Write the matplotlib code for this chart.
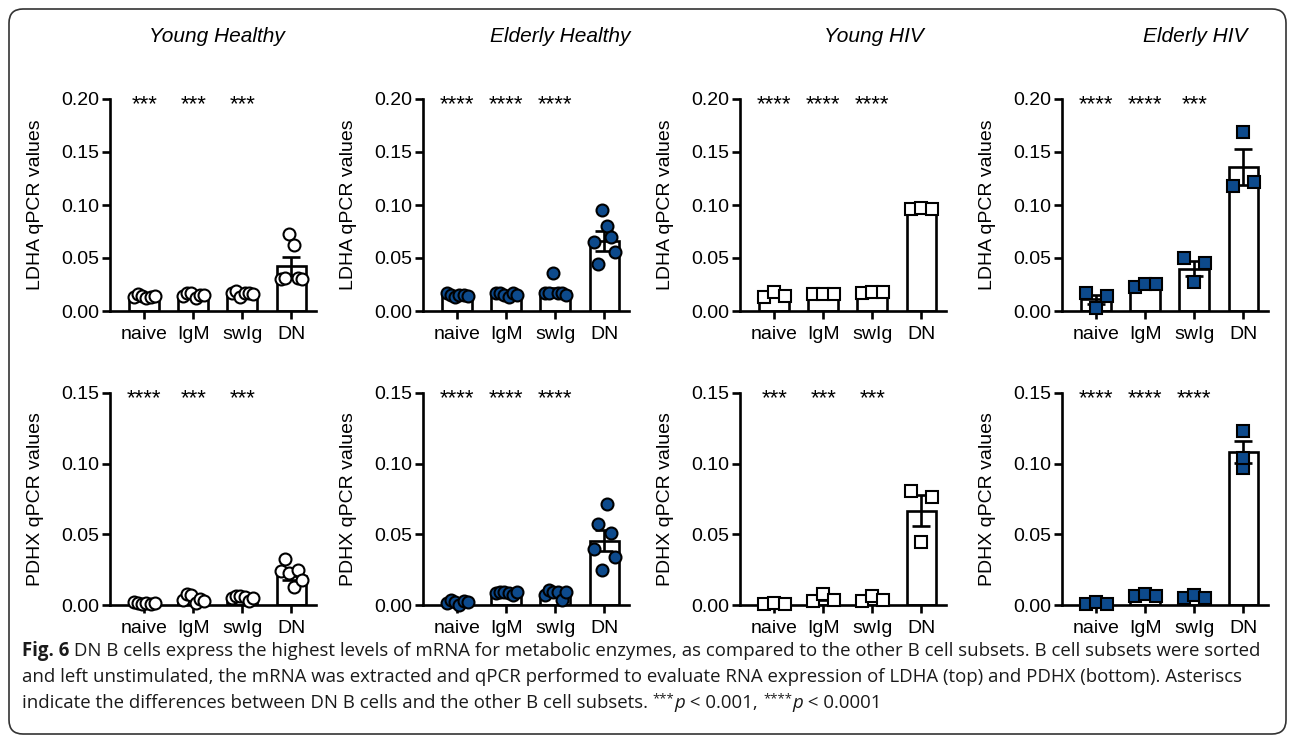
import numpy as np
import matplotlib.pyplot as plt
from matplotlib.patches import FancyBboxPatch
from matplotlib.transforms import IdentityTransform

subsets = ["naive", "IgM", "swIg", "DN"]
groups = ["Young Healthy", "Elderly Healthy", "Young HIV", "Elderly HIV"]

# LDHA qPCR values (top row), individual donors per subset
ldha_yh_points = [[0.0135, 0.0157, 0.0142, 0.0120, 0.0135, 0.0145],
                  [0.0140, 0.0167, 0.0167, 0.0126, 0.0150, 0.0155],
                  [0.0167, 0.0190, 0.0130, 0.0170, 0.0173, 0.0165],
                  [0.0300, 0.0310, 0.0730, 0.0620, 0.0310, 0.0300]]
ldha_eh_points = [[0.0170, 0.0150, 0.0135, 0.0150, 0.0150, 0.0140],
                  [0.0167, 0.0167, 0.0150, 0.0135, 0.0167, 0.0150],
                  [0.0167, 0.0170, 0.0360, 0.0167, 0.0167, 0.0150],
                  [0.0650, 0.0440, 0.0950, 0.0800, 0.0700, 0.0560]]
ldha_yhiv_points = [[0.0135, 0.0180, 0.0140],
                    [0.0157, 0.0157, 0.0157],
                    [0.0170, 0.0180, 0.0180],
                    [0.0960, 0.0975, 0.0960]]
ldha_ehiv_points = [[0.0167, 0.0025, 0.0145],
                    [0.0230, 0.0255, 0.0255],
                    [0.0497, 0.0270, 0.0456],
                    [0.1180, 0.1690, 0.1220]]

ldha_yh_mean = [0.0140, 0.0150, 0.0160, 0.0420]
ldha_yh_sem = [0.0006, 0.0007, 0.0008, 0.0085]
ldha_eh_mean = [0.0150, 0.0150, 0.0190, 0.0660]
ldha_eh_sem = [0.0005, 0.0006, 0.0030, 0.0090]
ldha_yhiv_mean = [0.0150, 0.0157, 0.0177, 0.0965]
ldha_yhiv_sem = [0.0015, 0.0002, 0.0003, 0.0005]
ldha_ehiv_mean = [0.0110, 0.0247, 0.0400, 0.1355]
ldha_ehiv_sem = [0.0045, 0.0008, 0.0070, 0.0170]

# PDHX qPCR values (bottom row)
pdhx_yh_points = [[0.0019, 0.0012, 0.0005, 0.0012, 0.0007, 0.0012],
                  [0.0035, 0.0075, 0.0071, 0.0012, 0.0040, 0.0030],
                  [0.0047, 0.0066, 0.0064, 0.0059, 0.0030, 0.0050],
                  [0.0243, 0.0323, 0.0224, 0.0125, 0.0248, 0.0177]]
pdhx_eh_points = [[0.0012, 0.0035, 0.0024, 0.0000, 0.0028, 0.0019],
                  [0.0083, 0.0090, 0.0090, 0.0083, 0.0071, 0.0090],
                  [0.0070, 0.0106, 0.0090, 0.0094, 0.0035, 0.0090],
                  [0.0394, 0.0571, 0.0248, 0.0713, 0.0507, 0.0337]]
pdhx_yhiv_points = [[0.0007, 0.0012, 0.0007],
                    [0.0030, 0.0078, 0.0035],
                    [0.0030, 0.0066, 0.0035],
                    [0.0810, 0.0448, 0.0767]]
pdhx_ehiv_points = [[0.0007, 0.0019, 0.0007],
                    [0.0066, 0.0075, 0.0066],
                    [0.0047, 0.0070, 0.0052],
                    [0.0970, 0.1230, 0.1040]]

pdhx_yh_mean = [0.0011, 0.0044, 0.0053, 0.0205]
pdhx_yh_sem = [0.0002, 0.0010, 0.0006, 0.0030]
pdhx_eh_mean = [0.0020, 0.0085, 0.0081, 0.0455]
pdhx_eh_sem = [0.0005, 0.0003, 0.0010, 0.0075]
pdhx_yhiv_mean = [0.0009, 0.0048, 0.0044, 0.0668]
pdhx_yhiv_sem = [0.0002, 0.0015, 0.0011, 0.0110]
pdhx_ehiv_mean = [0.0011, 0.0069, 0.0056, 0.1080]
pdhx_ehiv_sem = [0.0004, 0.0003, 0.0007, 0.0078]

ldha_stars = [["***", "***", "***"], ["****", "****", "****"],
              ["****", "****", "****"], ["****", "****", "***"]]
pdhx_stars = [["****", "***", "***"], ["****", "****", "****"],
              ["***", "***", "***"], ["****", "****", "****"]]

# caption, as runs of (text, style)
caption_lines = [
    [("Fig. 6", "bold"),
     (" DN B cells express the highest levels of mRNA for metabolic enzymes, as compared "
      "to the other B cell subsets. B cell subsets were sorted", "normal")],
    [("and left unstimulated, the mRNA was extracted and qPCR performed to evaluate RNA "
      "expression of LDHA (top) and PDHX (bottom). Asteriscs", "normal")],
    [("indicate the differences between DN B cells and the other B cell subsets. ", "normal"),
     ("***", "sup"), ("p", "italic"), (" < 0.001, ", "normal"),
     ("****", "sup"), ("p", "italic"), (" < 0.0001", "normal")],
]

plt.rcParams["font.family"] = ["Liberation Sans", "DejaVu Sans"]

BLUE = "#0d4a8c"
W, H = 1290, 736
LW = 1.9
MARKER_PX = 12
CAP_SIZE = 13.45


def spread(vals, px_per_unit):
    """Side by side offsets only when points would overlap"""
    vals = np.asarray(vals)
    n = len(vals)
    gaps = np.abs(np.subtract.outer(vals, vals))[np.triu_indices(n, 1)] * px_per_unit
    if gaps.min() >= 0.75 * MARKER_PX:
        return np.zeros(n)
    return np.linspace(-0.22, 0.22, n)


def draw_panel(ax, points, means, sems, stars, ymax, marker, filled, ylabel):
    x = np.arange(len(subsets))
    ax.bar(x, means, width=0.61, color="white", edgecolor="black",
           linewidth=LW, zorder=1)
    ax.errorbar(x, means, yerr=sems, fmt="none", ecolor="black",
                elinewidth=LW, capsize=6.8, capthick=LW, zorder=2)
    px_per_unit = 212 / ymax
    for i, vals in enumerate(points):
        offs = spread(vals, px_per_unit)
        ax.plot(x[i] + offs, vals, linestyle="none", marker=marker,
                ms=8.6 if marker == "o" else 8.2,
                mfc=BLUE if filled else "white", mec="black", mew=1.5,
                zorder=3, clip_on=False)

    for i, s in enumerate(stars):
        ax.annotate(s, xy=(i, ymax), xytext=(0, -0.5 * 16),
                    textcoords="offset points", ha="center", va="baseline",
                    fontsize=16, annotation_clip=False)

    ax.set_xlim(-0.7, 3.5)
    ax.set_ylim(0, ymax)
    ax.set_yticks(np.arange(0, ymax + 1e-9, 0.05))
    ax.yaxis.set_major_formatter(plt.FormatStrFormatter("%.2f"))
    ax.set_xticks(x)
    ax.set_xticklabels(subsets)
    for side in ["top", "right"]:
        ax.spines[side].set_visible(False)
    for side in ["left", "bottom"]:
        ax.spines[side].set_linewidth(LW)
    ax.tick_params(axis="both", length=6, width=LW, labelsize=14)
    ax.tick_params(axis="y", pad=2)
    ax.tick_params(axis="x", pad=5)
    ax.set_ylabel(ylabel, fontsize=14)
    ax.yaxis.set_label_coords(-0.32, 0.5)


fig = plt.figure(figsize=(12.9, 7.36), dpi=100)

lefts = [110, 423, 740, 1062]
zero_lines = [311, 605]
ax_w, ax_h = 206, 212
title_x = [217, 560, 874, 1195]

rows = [
    ([ldha_yh_points, ldha_eh_points, ldha_yhiv_points, ldha_ehiv_points],
     [ldha_yh_mean, ldha_eh_mean, ldha_yhiv_mean, ldha_ehiv_mean],
     [ldha_yh_sem, ldha_eh_sem, ldha_yhiv_sem, ldha_ehiv_sem],
     ldha_stars, 0.20, "LDHA qPCR values"),
    ([pdhx_yh_points, pdhx_eh_points, pdhx_yhiv_points, pdhx_ehiv_points],
     [pdhx_yh_mean, pdhx_eh_mean, pdhx_yhiv_mean, pdhx_ehiv_mean],
     [pdhx_yh_sem, pdhx_eh_sem, pdhx_yhiv_sem, pdhx_ehiv_sem],
     pdhx_stars, 0.15, "PDHX qPCR values"),
]
markers = ["o", "o", "s", "s"]
filled = [False, True, False, True]

for r, (pts, means, sems, stars, ymax, ylabel) in enumerate(rows):
    for c in range(4):
        ax = fig.add_axes([lefts[c] / W, (H - zero_lines[r]) / H, ax_w / W, ax_h / H])
        draw_panel(ax, pts[c], means[c], sems[c], stars[c], ymax,
                   markers[c], filled[c], ylabel)

for c, g in enumerate(groups):
    fig.text(title_x[c] / W, 1 - 37 / H, g, style="italic", fontsize=15,
             ha="center", va="center")

# caption drawn run by run so bold / italic / superscript pieces line up
renderer = fig.canvas.get_renderer()
styles = {
    "normal": dict(fontsize=CAP_SIZE),
    "bold": dict(fontsize=CAP_SIZE, weight="bold"),
    "italic": dict(fontsize=CAP_SIZE, style="italic"),
    "sup": dict(fontsize=CAP_SIZE * 0.7),
}
for k, runs in enumerate(caption_lines):
    x_px = 22
    base_px = 656 + 26 * k
    for text, style in runs:
        rise = 6 if style == "sup" else 0
        t = fig.text(x_px / W, (H - base_px + rise) / H, text, family="Open Sans",
                     ha="left", va="baseline", color="#1a1a1a", **styles[style])
        x_px += t.get_window_extent(renderer).width

border = FancyBboxPatch((9, 2), 1277, 725, boxstyle="round,pad=0,rounding_size=14",
                        transform=IdentityTransform(), fill=False,
                        edgecolor="#333333", linewidth=1.2)
fig.add_artist(border)

fig.savefig("out.png", dpi=100)
